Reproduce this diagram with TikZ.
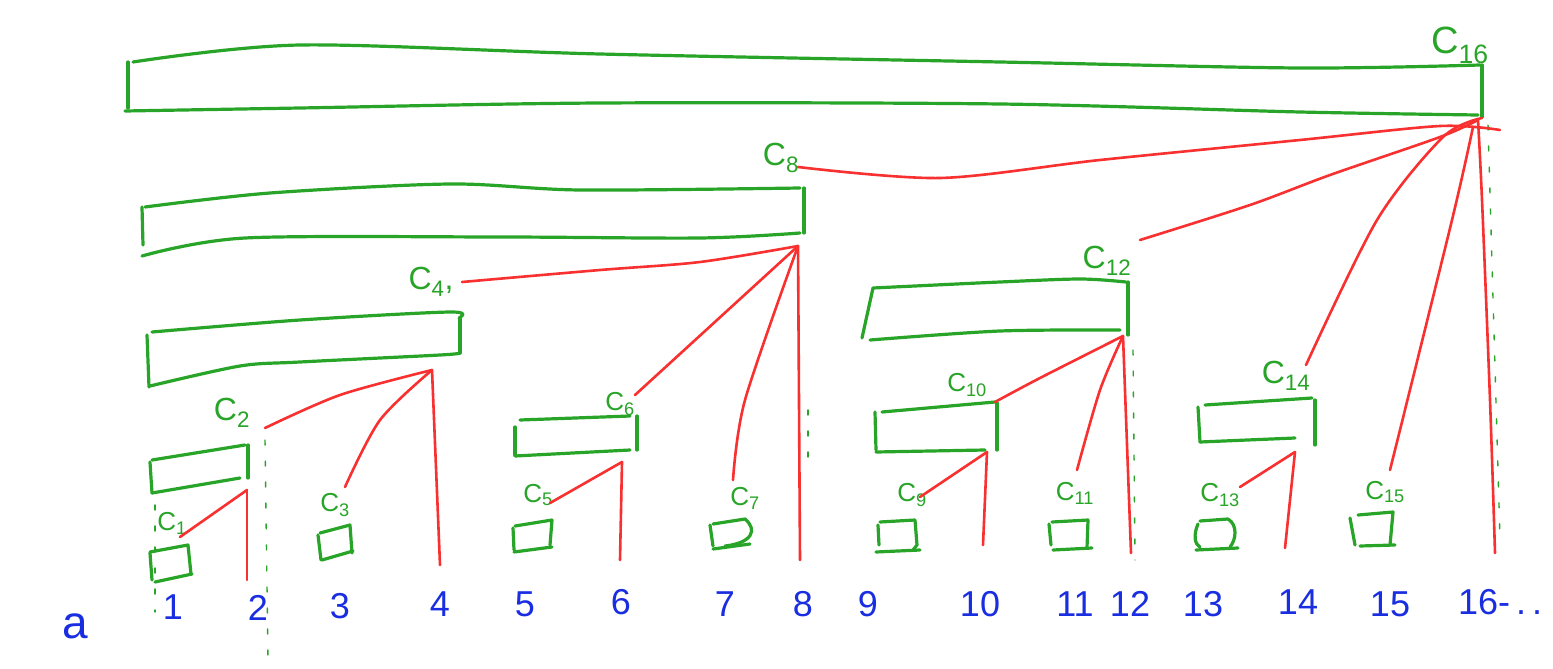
\documentclass[tikz,border=0pt]{standalone}
\usepackage{fontspec}
\setmainfont{Liberation Sans}
\definecolor{gr}{RGB}{40,165,40}
\definecolor{rd}{RGB}{248,48,48}
\definecolor{bl}{RGB}{25,45,225}
\begin{document}
\begin{tikzpicture}[x=1pt,y=-1pt,line cap=round,line join=round,
  box/.style={draw=gr,line width=3.2pt},
  link/.style={draw=rd,line width=2.6pt},
  guide/.style={draw=gr,line width=1.4pt,dash pattern=on 5pt off 16pt},
  bigc/.style={text=gr,font=\fontsize{38}{38}\selectfont,inner sep=0pt},
  midc/.style={text=gr,font=\fontsize{32}{32}\selectfont,inner sep=0pt},
  smc/.style={text=gr,font=\fontsize{26}{26}\selectfont,inner sep=0pt},
  num/.style={text=bl,font=\fontsize{36}{36}\selectfont,inner sep=0pt}]
\useasboundingbox (0,0) rectangle (1553,669);
\fill[white] (0,0) rectangle (1553,669);

% guides
\draw[guide] (155,505) -- (155,612);
\draw[guide] (265,440) -- (268,660);
\draw[guide] (808,410) -- (808,465);
\draw[guide] (1133,350) -- (1135,560);
\draw[guide] (1488,125) -- (1500,540);

% ---- boxes ----
% C16
\draw[box] (128,62) -- (128,108);
\draw[box] plot[smooth] coordinates {(133,62) (300,45) (600,54) (1000,62) (1300,68) (1480,65)};
\draw[box] (1482,65) -- (1482,117);
\draw[box] plot[smooth] coordinates {(125,111) (300,108) (600,103) (1000,104) (1300,112) (1478,115)};
% C8
\draw[box] (142,207) -- (143,245);
\draw[box] plot[smooth] coordinates {(145,207) (270,193) (450,184) (580,190) (800,188)};
\draw[box] (804,188) -- (804,233);
\draw[box] plot[smooth] coordinates {(142,256) (245,238) (500,237) (700,238) (800,233)};
% C4
\draw[box] (147,335) -- (149,387);
\draw[box] plot[smooth] coordinates {(152,332) (300,320) (450,312) (459,318)};
\draw[box] (460,318) -- (460,353);
\draw[box] plot[smooth] coordinates {(150,386) (240,366) (300,362) (440,355) (460,353)};
% C2
\draw[box] (150,462) -- (152,493);
\draw[box] (152,460) -- (245,445);
\draw[box] (248,445) -- (248,478);
\draw[box] (152,493) -- (240,478);
% C6
\draw[box] (515,427) -- (515,455);
\draw[box] (520,420) -- (630,416);
\draw[box] (637,416) -- (637,450);
\draw[box] (515,456) -- (630,450);
% C12
\draw[box] (873,288) -- (862,338);
\draw[box] plot[smooth] coordinates {(873,288) (1000,282) (1080,279) (1126,282)};
\draw[box] (1128,282) -- (1128,335);
\draw[box] plot[smooth] coordinates {(870,340) (1000,331) (1120,330)};
% C10
\draw[box] (875,412) -- (876,450);
\draw[box] (882,412) -- (995,402);
\draw[box] (997,403) -- (997,450);
\draw[box] (876,452) -- (985,450);
% C14
\draw[box] (1198,407) -- (1200,442);
\draw[box] (1205,405) -- (1312,398);
\draw[box] (1315,400) -- (1315,445);
\draw[box] (1200,442) -- (1295,438);
% small squares
\draw[box] (150,553) -- (152,580);
\draw[box] (150,552) -- (188,545) -- (191,574);
\draw[box] (155,582) -- (192,574);
\draw[box] (318,535) -- (321,560);
\draw[box] (320,533) -- (350,525) -- (352,553);
\draw[box] (322,560) -- (353,551);
\draw[box] (513,528) -- (514,550);
\draw[box] (515,526) -- (552,520) -- (550,545);
\draw[box] (514,552) -- (552,547);
\draw[box] (710,525) -- (713,546);
\draw[box] (713,524) -- (745,519) .. controls (758,530) and (752,543) .. (725,546);
\draw[box] (713,549) -- (750,544);
\draw[box] (878,525) -- (879,545);
\draw[box] (880,522) -- (915,520) -- (917,545) -- (913,550);
\draw[box] (876,552) -- (920,550);
\draw[box] (1049,524) -- (1051,545);
\draw[box] (1052,522) -- (1088,520) -- (1087,548);
\draw[box] (1053,550) -- (1092,548);
\draw[box] (1198,524) .. controls (1193,535) and (1195,545) .. (1200,547);
\draw[box] (1200,521) -- (1228,519) .. controls (1238,525) and (1236,540) .. (1230,547);
\draw[box] (1196,550) -- (1238,548);
\draw[box] (1350,518) -- (1355,545);
\draw[box] (1358,515) -- (1393,512) -- (1390,545);
\draw[box] (1360,546) -- (1395,545);

% ---- labels ----
\node[bigc] (c16) at (1460,45) {C\textsubscript{16}};
\node[midc] (c8) at (781,158) {C\textsubscript{8}};
\node[midc] (c4) at (431,282) {C\textsubscript{4},};
\node[midc] (c2) at (232,413) {C\textsubscript{2}};
\node[smc] (c1) at (172,523) {C\textsubscript{1}};
\node[smc] (c3) at (335,505) {C\textsubscript{3}};
\node[smc] (c5) at (538,495) {C\textsubscript{5}};
\node[smc] (c6) at (620,404) {C\textsubscript{6}};
\node[smc] (c7) at (745,498) {C\textsubscript{7}};
\node[smc] (c9) at (912,495) {C\textsubscript{9}};
\node[smc] (c10) at (967,385) {C\textsubscript{10}};
\node[smc] (c11) at (1075,493) {C\textsubscript{11}};
\node[midc] (c12) at (1107,261) {C\textsubscript{12}};
\node[smc] (c13) at (1220,495) {C\textsubscript{13}};
\node[midc] (c14) at (1286,376) {C\textsubscript{14}};
\node[smc] (c15) at (1385,492) {C\textsubscript{15}};

% fan points and ends
\coordinate (f16) at (1478,120);
\coordinate (f8) at (798,246);
\coordinate (f12) at (1123,336);
\coordinate (f4) at (432,370);
\coordinate (f2) at (247,490);
\coordinate (f6) at (622,462);
\coordinate (f10) at (987,452);
\coordinate (f14) at (1295,452);
\coordinate (e2) at (247,580);
\coordinate (e4) at (440,565);
\coordinate (e6) at (620,560);
\coordinate (e8) at (800,560);
\coordinate (e10) at (983,545);
\coordinate (e12) at (1131,553);
\coordinate (e14) at (1285,548);
\coordinate (e16) at (1495,553);

% ---- red links ----
\draw[link] plot[smooth] coordinates {(798,167) (940,178) (1100,160) (1300,140) (1440,126) (1500,130)};
\draw[link] plot[smooth] coordinates {(1140,240) (1250,205) (1330,175) (1440,137) (f16)};
\draw[link] plot[smooth] coordinates {(1306,365) (1377,220) (1443,137) (1482,118)};
\draw[link] plot[smooth] coordinates {(1390,470) (1452,220) (1473,127)};
\draw[link] plot[smooth] coordinates {(f16) (1482,200) (1490,400) (e16)};
\draw[link] plot[smooth] coordinates {(462,282) (600,270) (700,262) (f8)};
\draw[link] (635,395) -- (f8);
\draw[link] plot[smooth] coordinates {(733,480) (745,400) (f8)};
\draw[link] (f8) -- (e8);
\draw[link] plot[smooth] coordinates {(265,428) (340,395) (f4)};
\draw[link] plot[smooth] coordinates {(345,487) (380,420) (f4)};
\draw[link] (f4) -- (e4);
\draw[link] (180,537) -- (f2);
\draw[link] (f2) -- (e2);
\draw[link] (550,503) -- (f6);
\draw[link] (f6) -- (e6);
\draw[link] plot[smooth] coordinates {(995,402) (1040,378) (f12)};
\draw[link] plot[smooth] coordinates {(1077,470) (1100,390) (f12)};
\draw[link] (f12) -- (e12);
\draw[link] (920,497) -- (f10);
\draw[link] (f10) -- (e10);
\draw[link] (1240,487) -- (f14);
\draw[link] (f14) -- (e14);

% ---- bottom row ----
\node[num,font=\fontsize{46}{46}\selectfont] (a) at (75,626) {a};
\node[num] (n1) at (173,607) {1};
\node[num] (n2) at (258,608) {2};
\node[num] (n3) at (340,606) {3};
\node[num] (n4) at (440,604) {4};
\node[num] (n5) at (525,604) {5};
\node[num] (n6) at (621,602) {6};
\node[num] (n7) at (725,604) {7};
\node[num] (n8) at (803,604) {8};
\node[num] (n9) at (868,604) {9};
\node[num] (n10) at (980,604) {10};
\node[num] (n11) at (1075,604) {11};
\node[num] (n12) at (1130,604) {12};
\node[num] (n13) at (1203,604) {13};
\node[num] (n14) at (1298,602) {14};
\node[num] (n15) at (1390,604) {15};
\node[num,anchor=west] (n16) at (1458,602) {16-\,.\,.};
\end{tikzpicture}
\end{document}
